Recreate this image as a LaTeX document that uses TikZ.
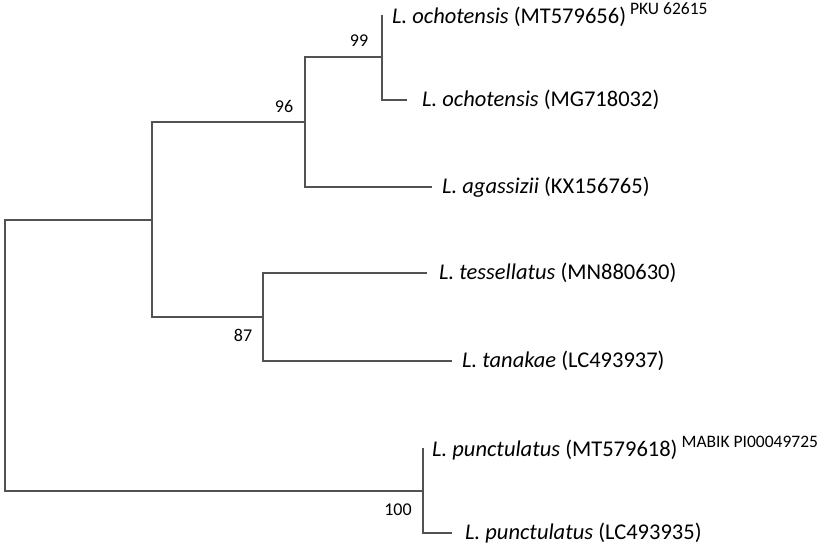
\documentclass[tikz,border=0pt]{standalone}
\usepackage{fontspec}
\setmainfont{Carlito}
\begin{document}
\begin{tikzpicture}[x=1pt,y=-1pt,
  branch/.style={draw=black!68, line width=1.4pt},
  tiplabel/.style={anchor=west, inner sep=0pt, font=\fontsize{22.5}{24}\selectfont, text=black},
  boot/.style={inner sep=0pt, font=\fontsize{18}{20}\selectfont, text=black}]
\useasboundingbox (0,0) rectangle (827,551);
\newcommand{\supl}[1]{\hspace{4pt}{\fontsize{17.5}{20}\selectfont\raisebox{9pt}{#1}}}
% internal nodes
\coordinate (root) at (5,355);
\coordinate (A) at (152,220);
\coordinate (B) at (305,122);
\coordinate (C) at (263,317);
\coordinate (D) at (423,491);
\coordinate (E) at (382,57);
% tips
\coordinate (t1) at (382,15);
\coordinate (t2) at (407,100);
\coordinate (t3) at (432,187);
\coordinate (t4) at (427,273);
\coordinate (t5) at (452,361);
\coordinate (t6) at (423,448);
\coordinate (t7) at (452,533);
% branches
\draw[branch] (A) -| (root) |- (D);
\draw[branch] (B) -| (A) |- (C);
\draw[branch] (E) -| (B) |- (t3);
\draw[branch] (t1) -- (E) |- (t2);
\draw[branch] (t4) -| (C) |- (t5);
\draw[branch] (t6) -- (D) |- (t7);
% labels
\node[tiplabel] (l1) at (392,15) {\textit{L. ochotensis} (MT579656)\supl{PKU 62615}};
\node[tiplabel] (l2) at (422,100) {\textit{L. ochotensis} (MG718032)};
\node[tiplabel] (l3) at (442,187) {\textit{L. agassizii} (KX156765)};
\node[tiplabel] (l4) at (439,273) {\textit{L. tessellatus} (MN880630)};
\node[tiplabel] (l5) at (462,361) {\textit{L. tanakae} (LC493937)};
\node[tiplabel] (l6) at (432,448) {\textit{L. punctulatus} (MT579618)\supl{MABIK PI00049725}};
\node[tiplabel] (l7) at (465,533) {\textit{L. punctulatus} (LC493935)};
% bootstrap values
\node[boot] (b99) at (359,41) {99};
\node[boot] (b96) at (284,106) {96};
\node[boot] (b87) at (243,335) {87};
\node[boot] (b100) at (398,510) {100};
\end{tikzpicture}
\end{document}
